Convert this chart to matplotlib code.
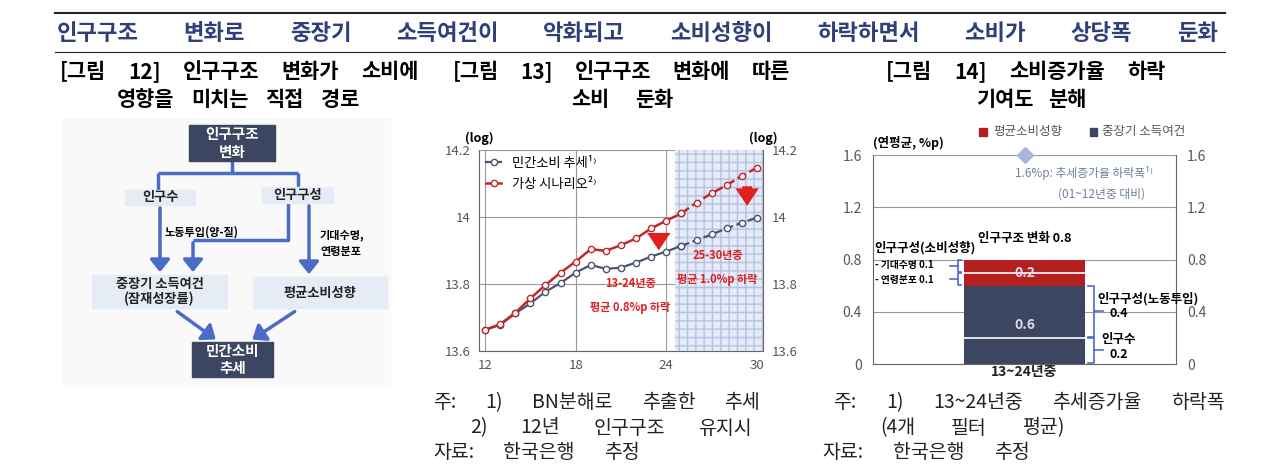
import matplotlib
matplotlib.use("Agg")
import matplotlib.pyplot as plt
from matplotlib.patches import Rectangle, FancyArrowPatch

plt.rcParams['font.family'] = ['Noto Sans CJK KR', 'DejaVu Sans']

years = list(range(12, 31))
trend = [13.663, 13.678, 13.712, 13.742, 13.777, 13.803, 13.834, 13.857, 13.845, 13.849,
         13.864, 13.882, 13.897, 13.914, 13.931, 13.948, 13.966, 13.983, 13.998]
scenario = [13.663, 13.680, 13.714, 13.757, 13.797, 13.834, 13.867, 13.904, 13.899, 13.916,
            13.936, 13.966, 13.989, 14.011, 14.043, 14.071, 14.095, 14.123, 14.147]
line_labels = ['민간소비 추세¹⁾', '가상 시나리오²⁾']
x_ticks = [12, 18, 24, 30]
y_ticks = [13.6, 13.8, 14.0, 14.2]

bar_category = '13~24년중'
bar_segments = [0.2, 0.4, 0.1, 0.1]   # 인구수, 인구구성(노동투입), 연령분포, 기대수명
bar_groups = ['중장기 소득여건', '중장기 소득여건', '평균소비성향', '평균소비성향']
trend_decline = 1.6
bar_yticks = [0, 0.4, 0.8, 1.2, 1.6]

W, H = 1274, 472
fig = plt.figure(figsize=(W/100, H/100), dpi=100)
NAVY = '#3c4660'; RED = '#b3201f'; BLUE = '#4a6bc8'; TITLE = '#2f3f7a'

def ax_px(x0, y0, x1, y1):
    return fig.add_axes([x0/W, 1-y1/H, (x1-x0)/W, (y1-y0)/H])

ov = fig.add_axes([0, 0, 1, 1], zorder=0)
ov.set_xlim(0, W); ov.set_ylim(H, 0); ov.axis('off')
R = fig.canvas.get_renderer()

def spread(x0, x1, y, s, **kw):
    """Place words of s so they span x0..x1 (pixel coords)."""
    words = s.split(' ')
    ts = [ov.text(0, y, w, ha='left', va='center', **kw) for w in words]
    ws = [t.get_window_extent(R).width for t in ts]
    gap = (x1 - x0 - sum(ws)) / max(len(words) - 1, 1)
    x = x0
    for t, w in zip(ts, ws):
        t.set_x(x); x += w + gap

ov.plot([55, 1225], [13, 13], color='#222', lw=1.5)
ov.plot([55, 1225], [52, 52], color='#222', lw=0.8)
spread(57, 1218, 33, '인구구조 변화로 중장기 소득여건이 악화되고 소비성향이 하락하면서 소비가 상당폭 둔화',
       fontsize=16, color=TITLE, fontweight='bold')
spread(60, 418, 72, '[그림 12] 인구구조 변화가 소비에', fontsize=15, fontweight='bold')
spread(117, 359, 99, '영향을 미치는 직접 경로', fontsize=15, fontweight='bold')
spread(453, 790, 72, '[그림 13] 인구구조 변화에 따른', fontsize=15, fontweight='bold')
spread(571, 673, 99, '소비 둔화', fontsize=15, fontweight='bold')
spread(886, 1166, 72, '[그림 14] 소비증가율 하락', fontsize=15, fontweight='bold')
spread(976, 1086, 99, '기여도 분해', fontsize=15, fontweight='bold')
nk = dict(fontsize=14, color='#222')
spread(433, 760, 403, '주: 1) BN분해로 추출한 추세', **nk)
spread(470, 752, 428, '2) 12년 인구구조 유지시', **nk)
spread(433, 640, 453, '자료: 한국은행 추정', **nk)
spread(833, 1225, 403, '주: 1) 13~24년중 추세증가율 하락폭', **nk)
spread(880, 1065, 428, '(4개 필터 평균)', **nk)
spread(822, 1030, 453, '자료: 한국은행 추정', **nk)

# ---- diagram
ov.add_patch(Rectangle((62, 118), 328, 268, color='#f9f9f9', zorder=0))
def box(x0, y0, x1, y1, txt, dark):
    ov.add_patch(Rectangle((x0, y0), x1-x0, y1-y0, color=NAVY if dark else '#e6ecf6', zorder=2))
    ov.text((x0+x1)/2, (y0+y1)/2, txt, ha='center', va='center', fontsize=10.5 if dark else 9.5,
            color='white' if dark else '#222', fontweight='bold', zorder=3, linespacing=1.1)
box(189, 125, 275, 161, '인구구조\n변화', True)
box(125, 190, 195, 205, '인구수', False)
box(262, 187, 333, 203, '인구구성', False)
box(92, 275, 227, 308, '중장기 소득여건\n(잠재성장률)', False)
box(253, 277, 387, 308, '평균소비성향', False)
box(192, 342, 273, 377, '민간소비\n추세', True)
lk = dict(color=BLUE, lw=2.5, zorder=1, solid_capstyle='butt')
ov.plot([232, 232], [161, 173], **lk)
ov.plot([158, 298], [173, 173], **lk)
ov.plot([158, 158], [173, 190], **lk)
ov.plot([298, 298], [173, 187], **lk)
ov.plot([288, 288, 193], [203, 240, 240], **lk)
def arr(p, q):
    ov.add_patch(FancyArrowPatch(p, q, arrowstyle='-|>,head_width=4,head_length=5', color=BLUE,
                                 lw=2.5, mutation_scale=1.5, zorder=1))
arr((160, 205), (160, 275)); arr((193, 240), (193, 275)); arr((309, 203), (309, 277))
arr((175, 310), (218, 341)); arr((297, 310), (250, 341))
ov.text(165, 232, '노동투입(양-질)', fontsize=8, fontweight='bold', va='center')
ov.text(320, 243, '기대수명,\n연령분포', fontsize=8, fontweight='bold', va='center', linespacing=1.3)

# ---- line chart
ax = ax_px(479, 150, 763, 351)
ax.axvspan(24.6, 30.4, facecolor='#e4eaf6', hatch='++', edgecolor='#b5c2e2', lw=0)
ax.plot(years[:14], trend[:14], '-o', color='#4a5470', lw=1.6, ms=4.5, mfc='white', label=line_labels[0])
ax.plot(years[13:], trend[13:], '--o', color='#4a5470', lw=1.6, ms=4.5, mfc='white')
ax.plot(years[:14], scenario[:14], '-o', color='#c0282a', lw=1.8, ms=4.5, mfc='white', label=line_labels[1])
ax.plot(years[13:], scenario[13:], '--o', color='#c0282a', lw=1.8, ms=4.5, mfc='white')
ax.set_xlim(11.6, 30.4); ax.set_ylim(13.6, 14.2)
ax.set_xticks(x_ticks); ax.set_yticks(y_ticks)
ax.set_yticklabels(['13.6', '13.8', '14', '14.2'])
ax.tick_params(labelsize=9.5, colors='#555', length=0, labelright=True, pad=6)
ax.grid(True, color='#999', lw=0.8); ax.set_axisbelow(True)
for s in ax.spines.values(): s.set_color('#666')
ax.spines['top'].set_visible(False)
ax.legend(loc='upper left', frameon=False, fontsize=9.5, handlelength=1.2, borderaxespad=0.1,
          labelspacing=0.6, bbox_to_anchor=(0.0, 1.0))
for (x, y0, y1) in [(23.5, 13.945, 13.892), (29.35, 14.1, 14.025)]:
    ax.annotate('', xy=(x, y1), xytext=(x, y0),
                arrowprops=dict(arrowstyle='simple,head_width=1.2,head_length=0.9,tail_width=0.5',
                                color='#e02020', lw=0, mutation_scale=14))
ax.text(21.6, 13.765, '13-24년중\n\n평균 0.8%p 하락', ha='center', va='center', fontsize=8,
        color='#e02020', fontweight='bold', linespacing=0.9)
ax.text(27.4, 13.85, '25-30년중\n\n평균 1.0%p 하락', ha='center', va='center', fontsize=8,
        color='#e02020', fontweight='bold', linespacing=0.9)
ov.text(479, 138, '(log)', ha='center', va='center', fontsize=9, fontweight='bold')
ov.text(763, 138, '(log)', ha='center', va='center', fontsize=9, fontweight='bold')

# ---- bar chart
bx = ax_px(873, 155, 1176, 364)
bx.set_xlim(0, 1); bx.set_ylim(0, 1.6)
bottom = 0
for v, g in zip(bar_segments, bar_groups):
    bx.bar(0.5, v, width=0.4, bottom=bottom, color=NAVY if g == '중장기 소득여건' else RED, zorder=2)
    bottom += v
bx.plot([0.3, 0.7], [0.2, 0.2], color='white', lw=1.2, zorder=3)
bx.plot([0.3, 0.7], [0.7, 0.7], color='white', lw=1.2, zorder=3)
bx.text(0.5, 0.3, '0.6', color='#dde', ha='center', va='center', fontsize=10, fontweight='bold', zorder=4)
bx.text(0.5, 0.7, '0.2', color='#dde', ha='center', va='center', fontsize=10, fontweight='bold', zorder=4)
bx.plot([0.5], [trend_decline], marker='D', ms=8, color='#a7b6dd', clip_on=False, zorder=4)
bx.set_yticks(bar_yticks); bx.set_yticklabels(['0', '0.4', '0.8', '1.2', '1.6'])
bx.set_xticks([0.5]); bx.set_xticklabels([bar_category], fontweight='bold', fontsize=10)
bx.tick_params(labelsize=10, colors='#555', length=0, labelright=True, pad=8)
bx.tick_params(axis='x', colors='#222', pad=1)
bx.grid(axis='y', color='#999', lw=0.8); bx.set_axisbelow(True)
for s in bx.spines.values(): s.set_color('#666')
bx.spines['top'].set_visible(False)
bc = dict(color=BLUE, lw=1.2, clip_on=False)
for (y0, y1) in [(0.7, 0.8), (0.6, 0.7)]:
    bx.plot([0.29, 0.28, 0.28, 0.29], [y1-0.005, y1-0.005, y0+0.005, y0+0.005], **bc)
    bx.plot([0.28, 0.255], [(y0+y1)/2]*2, **bc)
for (y0, y1) in [(0.01, 0.2), (0.21, 0.6)]:
    bx.plot([0.71, 0.73, 0.73, 0.71], [y1, y1, y0, y0], **bc)
    bx.plot([0.73, 0.76], [(y0+y1)/2]*2, **bc)
bx.text(0.5, 0.96, '인구구조 변화 0.8', ha='center', va='center', fontsize=9, fontweight='bold')
bx.text(0.005, 0.89, '인구구성(소비성향)', ha='left', va='center', fontsize=9, fontweight='bold')
bx.text(0.005, 0.755, '- 기대수명 0.1', ha='left', va='center', fontsize=7, fontweight='bold')
bx.text(0.005, 0.645, '- 연령분포 0.1', ha='left', va='center', fontsize=7, fontweight='bold')
bx.text(0.74, 0.5, '인구구성(노동투입)', ha='left', va='center', fontsize=9, fontweight='bold')
bx.text(0.81, 0.39, '0.4', ha='center', va='center', fontsize=9, fontweight='bold')
bx.text(0.81, 0.19, '인구수', ha='center', va='center', fontsize=9, fontweight='bold')
bx.text(0.81, 0.07, '0.2', ha='center', va='center', fontsize=9, fontweight='bold')
bx.text(0.47, 1.46, '1.6%p: 추세증가율 하락폭¹⁾', ha='left', va='center', fontsize=8.5, color='#6f7f9f')
bx.text(0.61, 1.30, '(01~12년중 대비)', ha='left', va='center', fontsize=8.5, color='#6f7f9f')
ov.text(873, 143, '(연평균, %p)', ha='left', va='center', fontsize=9, fontweight='bold')
ov.add_patch(Rectangle((979, 128), 8, 8, color=RED))
ov.text(993, 132, '평균소비성향', ha='left', va='center', fontsize=9, color='#555')
ov.add_patch(Rectangle((1090, 128), 7, 8, color=NAVY))
ov.text(1102, 132, '중장기 소득여건', ha='left', va='center', fontsize=9, color='#555')

fig.savefig('out.png', dpi=100)
